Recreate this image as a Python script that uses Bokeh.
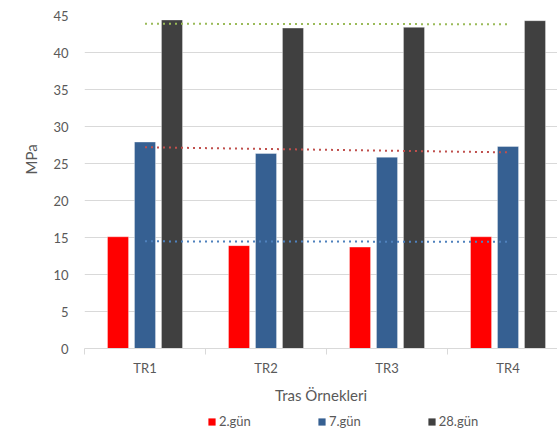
import numpy as np
from bokeh.plotting import figure
from bokeh.layouts import column
from bokeh.models import Range1d, FixedTicker, Legend, LegendItem, Title, ColumnDataSource
from bokeh.transform import dodge
from bokeh.embed import file_html
from bokeh.resources import INLINE

categories = ["TR1", "TR2", "TR3", "TR4"]
series_names = ["2.gün", "7.gün", "28.gün"]
gun2 = [15.1, 13.9, 13.7, 15.1]
gun7 = [27.9, 26.35, 25.85, 27.3]
gun28 = [44.4, 43.3, 43.4, 44.3]
y_ticks = [0, 5, 10, 15, 20, 25, 30, 35, 40, 45]

bar_colors = ["#FF0000", "#366092", "#404040"]
trend_colors = ["#4F81BD", "#C0504D", "#9BBB59"]
FONT = "Lato"
TXT = "#595959"

xs = [i + 1 for i in range(len(categories))]
src = ColumnDataSource(dict(x=xs, g2=gun2, g7=gun7, g28=gun28))

p = figure(width=557, height=408, output_backend="svg", toolbar_location=None,
           x_range=Range1d(0.5, 4.409), y_range=Range1d(0, 45),
           min_border_left=84, min_border_right=0, min_border_top=15, min_border_bottom=60)
p.outline_line_color = None
p.xgrid.visible = False
p.ygrid.grid_line_color = "#D9D9D9"
p.ygrid.grid_line_width = 1
p.ygrid.ticker = FixedTicker(ticks=y_ticks)

# y axis
p.yaxis.ticker = FixedTicker(ticks=y_ticks, minor_ticks=[])
p.yaxis.axis_line_color = None
p.yaxis.major_tick_line_color = None
p.yaxis.minor_tick_line_color = None
p.yaxis.major_label_standoff = 10
p.yaxis.major_label_text_font = FONT
p.yaxis.major_label_text_font_size = "13px"
p.yaxis.major_label_text_color = TXT

# x axis
p.xaxis.ticker = FixedTicker(ticks=xs, minor_ticks=[x - 0.5 for x in xs] + [len(xs) + 0.5])
p.xaxis.major_label_overrides = {x: c for x, c in zip(xs, categories)}
p.xaxis.axis_line_color = "#D9D9D9"
p.xaxis.major_tick_out = 0
p.xaxis.major_tick_in = 0
p.xaxis.minor_tick_out = 6
p.xaxis.minor_tick_in = 0
p.xaxis.minor_tick_line_color = "#D9D9D9"
p.xaxis.major_label_standoff = 5
p.xaxis.major_label_text_font = FONT
p.xaxis.major_label_text_font_size = "13px"
p.xaxis.major_label_text_color = TXT
p.xaxis.axis_label = "Tras Örnekleri"
p.xaxis.axis_label_standoff = 7
p.xaxis.axis_label_text_font = FONT
p.xaxis.axis_label_text_font_size = "15px"
p.xaxis.axis_label_text_font_style = "normal"
p.xaxis.axis_label_text_color = TXT

offsets = [-0.223, 0.0, 0.223]
cols = ["g2", "g7", "g28"]
for off, col, color in zip(offsets, cols, bar_colors):
    p.vbar(x=dodge("x", off, range=p.x_range), top=col, width=0.174, source=src,
           fill_color=color, line_color="white", line_alpha=0.35, line_width=1)

# linear trend lines
for vals, color in zip([gun2, gun7, gun28], trend_colors):
    k, b = np.polyfit(xs, vals, 1)
    tx = [xs[0], xs[-1]]
    p.line(x=tx, y=[k * t + b for t in tx], line_color=color, line_width=2, line_dash="2 4")

ytitle = Title(text="MPa", align="left", offset=174, standoff=20, vertical_align="middle",
               text_font=FONT, text_font_size="15px", text_font_style="normal", text_color=TXT)
p.add_layout(ytitle, "left")

# legend strip
p2 = figure(width=557, height=27, output_backend="svg", toolbar_location=None,
            x_range=Range1d(0, 1), y_range=Range1d(0, 1), min_border=0)
p2.outline_line_color = None
p2.axis.visible = False
p2.grid.visible = False
nan = float("nan")
leg_r = [p2.vbar(x=[nan], top=[nan], width=0.1, fill_color=c, line_color=None) for c in bar_colors]
legend = Legend(items=[LegendItem(label=n, renderers=[r]) for n, r in zip(series_names, leg_r)],
                orientation="horizontal", location=(123, 6),
                glyph_width=9, glyph_height=9, label_standoff=3, spacing=66,
                padding=0, margin=0, border_line_color=None, background_fill_alpha=0,
                label_text_font=FONT, label_text_font_size="13px", label_text_color=TXT)
p2.add_layout(legend)

layout = column(p, p2, spacing=0)
open("out.html", "w").write(file_html(layout, INLINE))
